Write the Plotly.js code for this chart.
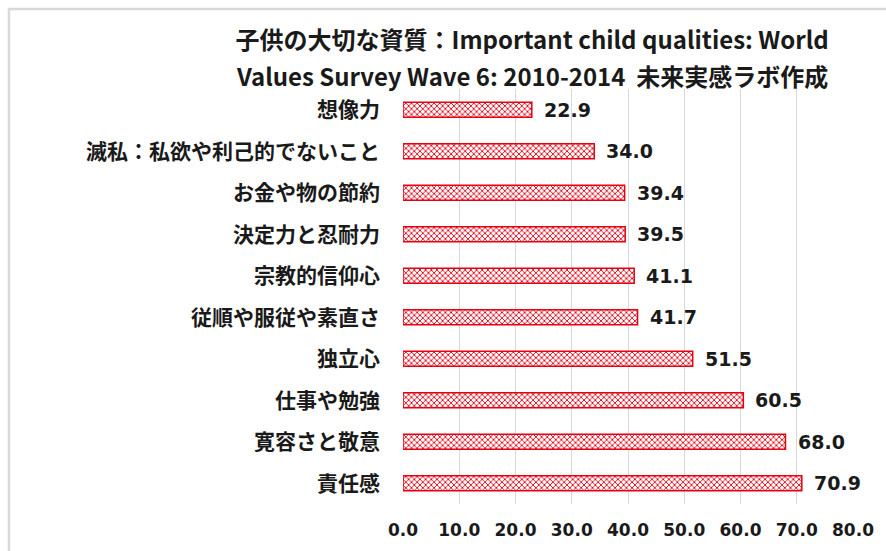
<!DOCTYPE html>
<html>
<head>
<meta charset="utf-8">
<script src="https://cdn.plot.ly/plotly-3.0.1.min.js"></script>
<style>
html,body{margin:0;padding:0;background:#fff;}
#chart{width:886px;height:551px;}
</style>
</head>
<body>
<div id="chart"></div>
<script>
// Data (top-to-bottom order as shown)
const categories = ["想像力","滅私：私欲や利己的でないこと","お金や物の節約","決定力と忍耐力","宗教的信仰心","従順や服従や素直さ","独立心","仕事や勉強","寛容さと敬意","責任感"];
const values = [22.9, 34.0, 39.4, 39.5, 41.1, 41.7, 51.5, 60.5, 68.0, 70.9];
const xTicks = [0,10,20,30,40,50,60,70,80];
const xTickLabels = ["0.0","10.0","20.0","30.0","40.0","50.0","60.0","70.0","80.0"];
const titleLine1 = "子供の大切な資質：Important child qualities: World";
const titleLine2 = "Values Survey Wave 6: 2010-2014  未来実感ラボ作成";

const jp = '"Noto Sans CJK JP", "Noto Sans", sans-serif';
const num = '"DejaVu Sans", sans-serif';

const trace = {
  type: 'bar',
  orientation: 'h',
  x: values,
  y: categories,
  marker: {
    color: '#ffffff',
    line: {color: '#e60012', width: 1.5},
    pattern: {shape: 'x', fgcolor: '#e60012', bgcolor: '#ffffff', size: 4, solidity: 0.4}
  },
  hoverinfo: 'none'
};

const annotations = values.map((v, i) => ({
  x: v, y: categories[i], xref: 'x', yref: 'y',
  text: v.toFixed(1), showarrow: false, xanchor: 'left', yanchor: 'middle',
  xshift: 10, font: {family: num, size: 19, color: '#1a1a1a', weight: 'bold'}
}));
annotations.push({
  text: titleLine2, xref: 'paper', yref: 'paper', x: 0.287, y: 1.0337,
  xanchor: 'center', yanchor: 'middle', showarrow: false,
  font: {family: jp, size: 24, color: '#1a1a1a', weight: 'bold'}
});

const layout = {
  width: 886, height: 551,
  margin: {l: 403, r: 33, t: 89, b: 47},
  paper_bgcolor: '#ffffff', plot_bgcolor: '#ffffff',
  showlegend: false,
  bargap: 0.64,
  title: {
    text: titleLine1,
    font: {family: jp, size: 24, color: '#1a1a1a', weight: 'bold'},
    xref: 'paper', x: 0.287, xanchor: 'center',
    yref: 'container', y: 0.926, yanchor: 'middle'
  },
  xaxis: {
    range: [0, 80], tickvals: xTicks, ticktext: xTickLabels,
    showgrid: true, gridcolor: '#d9d9d9', gridwidth: 1,
    zeroline: false, showline: false, ticks: '',
    ticklabelstandoff: 14,
    tickfont: {family: num, size: 17, color: '#1a1a1a', weight: 'bold'},
    fixedrange: true
  },
  yaxis: {
    type: 'category', autorange: 'reversed',
    showgrid: false, zeroline: false, showline: false, ticks: '',
    ticklabelstandoff: 22,
    tickfont: {family: jp, size: 21, color: '#1a1a1a', weight: 'bold'},
    fixedrange: true
  },
  annotations: annotations,
  shapes: [{
    type: 'path', xref: 'paper', yref: 'paper',
    path: 'M -0.8756,-0.2 L -0.8756,1.1928 L 1.2,1.1928',
    line: {color: '#d9d9d9', width: 2.5}
  }]
};

Plotly.newPlot('chart', [trace], layout, {displayModeBar: false, staticPlot: true});
</script>
</body>
</html>
